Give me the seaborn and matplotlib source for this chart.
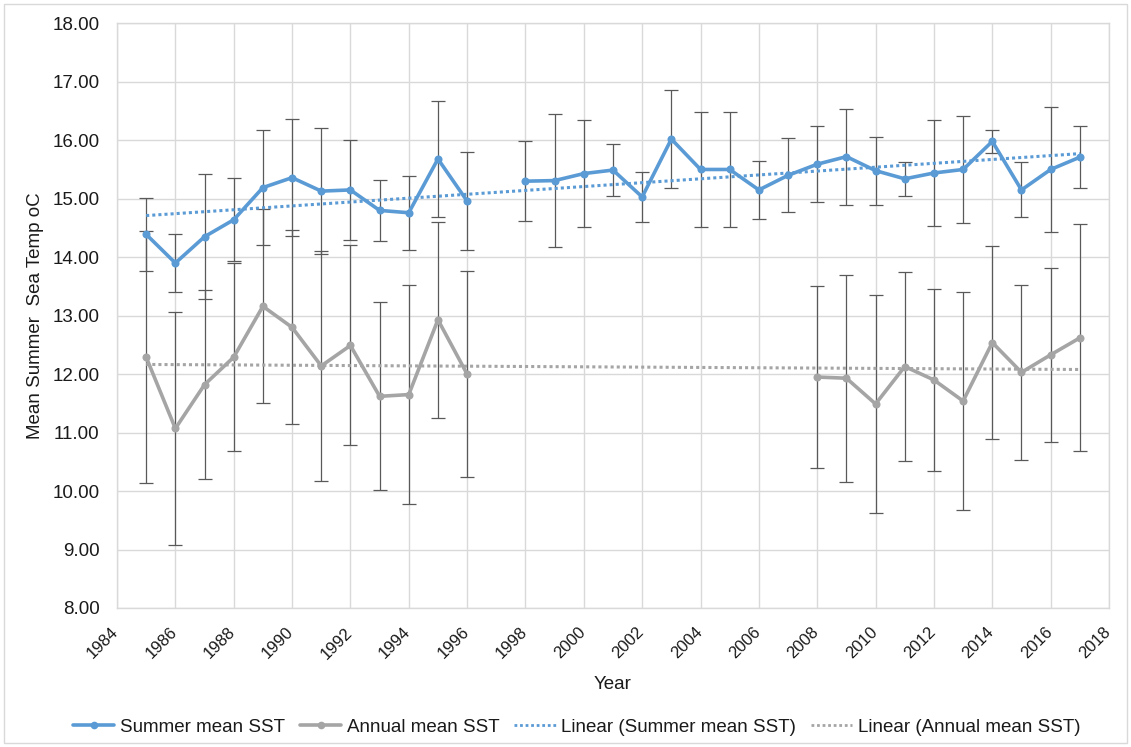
import numpy as np
import pandas as pd
import matplotlib
matplotlib.use("Agg")
import matplotlib.pyplot as plt
import matplotlib.transforms as mtransforms
from matplotlib.lines import Line2D
from matplotlib.patches import Rectangle
import seaborn as sns

# Summer mean sea surface temperature (no record for 1997)
summer_years = [1985, 1986, 1987, 1988, 1989, 1990, 1991, 1992, 1993, 1994, 1995, 1996,
                1998, 1999, 2000, 2001, 2002, 2003, 2004, 2005, 2006, 2007, 2008, 2009,
                2010, 2011, 2012, 2013, 2014, 2015, 2016, 2017]
summer_mean = [14.39, 13.90, 14.35, 14.64, 15.19, 15.36, 15.13, 15.15, 14.80, 14.76, 15.68, 14.96,
               15.30, 15.31, 15.43, 15.49, 15.03, 16.02, 15.50, 15.50, 15.15, 15.40, 15.59, 15.72,
               15.48, 15.34, 15.44, 15.50, 15.98, 15.15, 15.50, 15.71]
summer_sd = [0.63, 0.50, 1.07, 0.71, 0.99, 1.00, 1.08, 0.85, 0.52, 0.63, 0.99, 0.84,
             0.68, 1.14, 0.91, 0.44, 0.42, 0.84, 0.99, 0.99, 0.50, 0.63, 0.65, 0.82,
             0.58, 0.29, 0.90, 0.92, 0.20, 0.47, 1.07, 0.53]

# Annual mean sea surface temperature (no record for 1997-2007)
annual_years = [1985, 1986, 1987, 1988, 1989, 1990, 1991, 1992, 1993, 1994, 1995, 1996,
                2008, 2009, 2010, 2011, 2012, 2013, 2014, 2015, 2016, 2017]
annual_mean = [12.29, 11.07, 11.82, 12.29, 13.16, 12.80, 12.14, 12.49, 11.62, 11.65, 12.93, 12.00,
               11.95, 11.93, 11.49, 12.13, 11.90, 11.54, 12.54, 12.03, 12.33, 12.62]
annual_sd = [2.15, 2.00, 1.62, 1.61, 1.66, 1.66, 1.96, 1.71, 1.61, 1.87, 1.68, 1.76,
             1.55, 1.77, 1.86, 1.62, 1.55, 1.86, 1.65, 1.50, 1.49, 1.94]

x_ticks = list(range(1984, 2019, 2))
y_ticks = list(range(8, 19))

BLUE = "#5B9BD5"
GREY = "#A5A5A5"
ERR = "#595959"
GRID = "#D9D9D9"
TEXT = "#1a1a1a"
FS = 13.5

sns.set_theme(style="white")
plt.rcParams["font.family"] = ["Liberation Sans", "DejaVu Sans"]


def frame(years, values, sd):
    df = pd.DataFrame({"year": years, "value": values, "sd": sd})
    # a new segment wherever a year is missing, so the line breaks there
    df["segment"] = (df["year"].diff().fillna(1) > 1).cumsum()
    return df


summer = frame(summer_years, summer_mean, summer_sd)
annual = frame(annual_years, annual_mean, annual_sd)

fig = plt.figure(figsize=(11.31, 7.47), dpi=100)
ax = fig.add_axes([117 / 1131, 1 - 608 / 747, (1109 - 117) / 1131, (608 - 23.3) / 747])

# outer chart border
fig.patches.append(Rectangle((4 / 1131, 4 / 747), 1 - 8 / 1131, 1 - 8 / 747,
                             transform=fig.transFigure, fill=False,
                             edgecolor=GRID, linewidth=1.0))

for df in (annual, summer):
    ax.errorbar(df["year"], df["value"], yerr=df["sd"], fmt="none",
                ecolor=ERR, elinewidth=0.9, capsize=5, capthick=0.9, zorder=2)

for df, col in ((annual, GREY), (summer, BLUE)):
    sns.lineplot(data=df, x="year", y="value", units="segment", estimator=None,
                 color=col, linewidth=2.6, marker="o", markersize=5.8,
                 markeredgewidth=0, ax=ax, zorder=3, legend=False)
    sns.regplot(data=df, x="year", y="value", scatter=False, ci=None, truncate=True,
                color=col, ax=ax,
                line_kws={"linestyle": (0, (1, 1)), "linewidth": 2.2, "zorder": 4})

ax.set_xlim(1984, 2018)
ax.set_ylim(8, 18)
ax.set_xticks(x_ticks)
ax.set_yticks(y_ticks)
ax.set_xticklabels([str(t) for t in x_ticks], rotation=45, ha="right",
                   rotation_mode="anchor", fontsize=12, color=TEXT)
ax.set_yticklabels([f"{t:.2f}" for t in y_ticks], fontsize=FS, color=TEXT)
ax.tick_params(axis="x", length=0, pad=12)
ax.tick_params(axis="y", length=0, pad=12.5)
shift = mtransforms.ScaledTranslation(-6 / 100, 0, fig.dpi_scale_trans)
for lab in ax.get_xticklabels():
    lab.set_transform(lab.get_transform() + shift)
ax.grid(True, color=GRID, linewidth=1.0)
ax.set_axisbelow(True)
for s in ax.spines.values():
    s.set_color(GRID)
    s.set_linewidth(1.0)

ax.set_xlabel("Year", fontsize=FS, color=TEXT)
ax.xaxis.set_label_coords(0.5, -(676 - 608) / 584.7)
ax.set_ylabel("Mean Summer  Sea Temp oC", fontsize=FS, color=TEXT)
ax.yaxis.set_label_coords((44 - 117) / 992, 0.5)

handles = [
    Line2D([], [], color=BLUE, linewidth=2.6, marker="o", markersize=5.5, markeredgewidth=0),
    Line2D([], [], color=GREY, linewidth=2.6, marker="o", markersize=5.5, markeredgewidth=0),
    Line2D([], [], color=BLUE, linewidth=2.0, linestyle=(0, (1, 1))),
    Line2D([], [], color=GREY, linewidth=2.0, linestyle=(0, (1, 1))),
]
labels = ["Summer mean SST", "Annual mean SST",
          "Linear (Summer mean SST)", "Linear (Annual mean SST)"]
leg = fig.legend(handles, labels, loc="center", bbox_to_anchor=(0.51, 1 - 727 / 747),
                 ncol=4, frameon=False, fontsize=FS, handlelength=2.2,
                 handletextpad=0.3, columnspacing=0.8)
for t in leg.get_texts():
    t.set_color(TEXT)

fig.savefig("out.png", dpi=100)
